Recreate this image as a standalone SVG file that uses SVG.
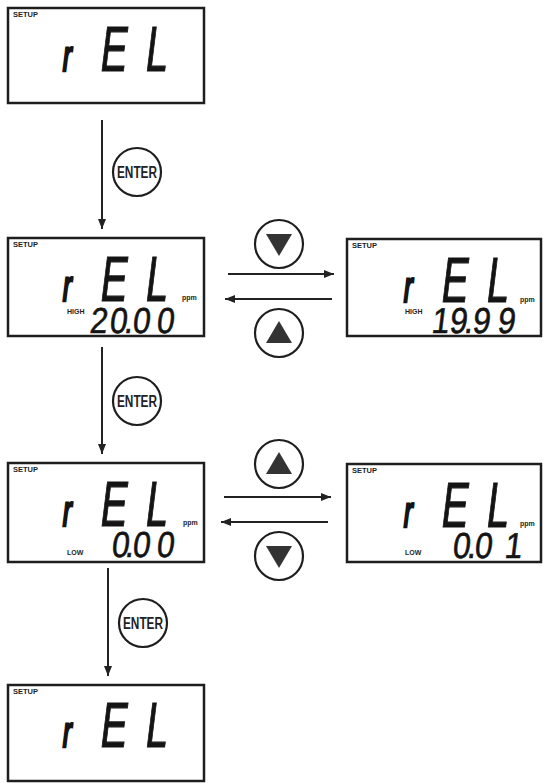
<svg xmlns="http://www.w3.org/2000/svg" width="543" height="783" viewBox="0 0 543 783">
<defs>
<style>
.box{fill:#fff;stroke:#1e1e1e;stroke-width:2.5}
.lbl{font-family:"Liberation Sans",Arial,sans-serif;font-weight:bold;fill:#1e1e1e}
.big{font-family:"Liberation Sans",Arial,sans-serif;font-size:64px;fill:#141414;stroke:#141414;stroke-width:1.2}
.rr{font-size:44px;stroke-width:2.6}
.dig{font-family:"Liberation Sans",Arial,sans-serif;font-size:36px;fill:#141414;stroke:#141414;stroke-width:0.6}
.line{stroke:#222;stroke-width:2;fill:none}
.btn{fill:#fff;stroke:#1e1e1e;stroke-width:2.2}
.tri{fill:#333}
.ent{font-family:"Liberation Sans",Arial,sans-serif;font-weight:bold;font-size:16px;fill:#222}
</style>
<marker id="ah" viewBox="0 0 10 8" refX="10" refY="4" markerWidth="10" markerHeight="8" markerUnits="userSpaceOnUse" orient="auto">
<path d="M0,0 L10,4 L0,8 z" fill="#222"/>
</marker>
</defs>
<rect width="543" height="783" fill="#fff"/>

<g id="connectors">
<line class="line" x1="102" y1="120" x2="102" y2="229" marker-end="url(#ah)"/>
<line class="line" x1="102" y1="347" x2="102" y2="454" marker-end="url(#ah)"/>
<line class="line" x1="108" y1="568" x2="108" y2="676" marker-end="url(#ah)"/>
<line class="line" x1="228" y1="274" x2="334" y2="274" marker-end="url(#ah)"/>
<line class="line" x1="332" y1="299" x2="225" y2="299" marker-end="url(#ah)"/>
<line class="line" x1="224" y1="497" x2="331" y2="497" marker-end="url(#ah)"/>
<line class="line" x1="328" y1="522" x2="221" y2="522" marker-end="url(#ah)"/>
</g>

<g id="enter1"><circle class="btn" cx="137" cy="172" r="24"/><text class="ent" x="137" y="178" text-anchor="middle" textLength="40" lengthAdjust="spacingAndGlyphs">ENTER</text></g>
<g id="enter2"><circle class="btn" cx="137" cy="401" r="24"/><text class="ent" x="137" y="407" text-anchor="middle" textLength="40" lengthAdjust="spacingAndGlyphs">ENTER</text></g>
<g id="enter3"><circle class="btn" cx="143" cy="623" r="24"/><text class="ent" x="143" y="629" text-anchor="middle" textLength="40" lengthAdjust="spacingAndGlyphs">ENTER</text></g>

<g id="btn-down-high"><circle class="btn" cx="279" cy="244" r="24"/><polygon class="tri" points="266,234 292,234 279,256"/></g>
<g id="btn-up-high"><circle class="btn" cx="279" cy="333" r="24"/><polygon class="tri" points="279,321 266,343 292,343"/></g>
<g id="btn-up-low"><circle class="btn" cx="279" cy="464" r="24"/><polygon class="tri" points="279,452 266,474 292,474"/></g>
<g id="btn-down-low"><circle class="btn" cx="279" cy="556" r="24"/><polygon class="tri" points="266,546 292,546 279,568"/></g>

<g id="display1" transform="translate(8,8)">
<rect class="box" x="0" y="0" width="196" height="95"/>
<text class="lbl" x="5" y="9" font-size="7.5">SETUP</text>
<g transform="translate(0,62.5) skewX(-7) scale(0.62,1)"><text class="big" y="0"><tspan class="rr" x="86">r</tspan><tspan x="146.5">E</tspan><tspan x="219.5">L</tspan></text></g>
</g>

<g id="display2" transform="translate(8,238)">
<rect class="box" x="0" y="0" width="196" height="98"/>
<text class="lbl" x="5" y="9" font-size="7.5">SETUP</text>
<g transform="translate(0,62.5) skewX(-7) scale(0.62,1)"><text class="big" y="0"><tspan class="rr" x="86">r</tspan><tspan x="146.5">E</tspan><tspan x="219.5">L</tspan></text></g>
<text class="lbl" x="174" y="62" font-size="7">ppm</text>
<text class="lbl" x="59" y="76" font-size="7">HIGH</text>
<g transform="translate(0,94.5) skewX(-7) scale(0.88,1)"><text class="dig" x="92.1 114.4 131.2 140.5 167.8" y="0">20.00</text></g>
</g>

<g id="display3" transform="translate(347,239)">
<rect class="box" x="0" y="0" width="194" height="97"/>
<text class="lbl" x="5" y="9" font-size="7.5">SETUP</text>
<g transform="translate(0,62.5) skewX(-7) scale(0.62,1)"><text class="big" y="0"><tspan class="rr" x="89">r</tspan><tspan x="149.5">E</tspan><tspan x="222.5">L</tspan></text></g>
<text class="lbl" x="173" y="63" font-size="7">ppm</text>
<text class="lbl" x="58" y="75" font-size="7">HIGH</text>
<g transform="translate(0,94) skewX(-7) scale(0.88,1)"><text class="dig" x="95.1 115.5 132.4 141.7 170.1" y="0">19.99</text></g>
</g>

<g id="display4" transform="translate(8,463)">
<rect class="box" x="0" y="0" width="196" height="99"/>
<text class="lbl" x="5" y="9" font-size="7.5">SETUP</text>
<g transform="translate(0,62.5) skewX(-7) scale(0.62,1)"><text class="big" y="0"><tspan class="rr" x="86">r</tspan><tspan x="146.5">E</tspan><tspan x="219.5">L</tspan></text></g>
<text class="lbl" x="175" y="62" font-size="7">ppm</text>
<text class="lbl" x="59" y="91.5" font-size="7">LOW</text>
<g transform="translate(0,94) skewX(-7) scale(0.88,1)"><text class="dig" x="116.7 132.4 140.5 167.8" y="0">0.00</text></g>
</g>

<g id="display5" transform="translate(347,464)">
<rect class="box" x="0" y="0" width="194" height="98"/>
<text class="lbl" x="5" y="9" font-size="7.5">SETUP</text>
<g transform="translate(0,62.5) skewX(-7) scale(0.62,1)"><text class="big" y="0"><tspan class="rr" x="89">r</tspan><tspan x="149.5">E</tspan><tspan x="222.5">L</tspan></text></g>
<text class="lbl" x="173" y="62" font-size="7">ppm</text>
<text class="lbl" x="58" y="91" font-size="7">LOW</text>
<g transform="translate(0,93.5) skewX(-7) scale(0.88,1)"><text class="dig" x="119 135.8 144 178.1" y="0">0.01</text></g>
</g>

<g id="display6" transform="translate(8,685)">
<rect class="box" x="0" y="0" width="196" height="96"/>
<text class="lbl" x="5" y="9" font-size="7.5">SETUP</text>
<g transform="translate(0,62) skewX(-7) scale(0.62,1)"><text class="big" y="0"><tspan class="rr" x="86">r</tspan><tspan x="146.5">E</tspan><tspan x="219.5">L</tspan></text></g>
</g>
</svg>
